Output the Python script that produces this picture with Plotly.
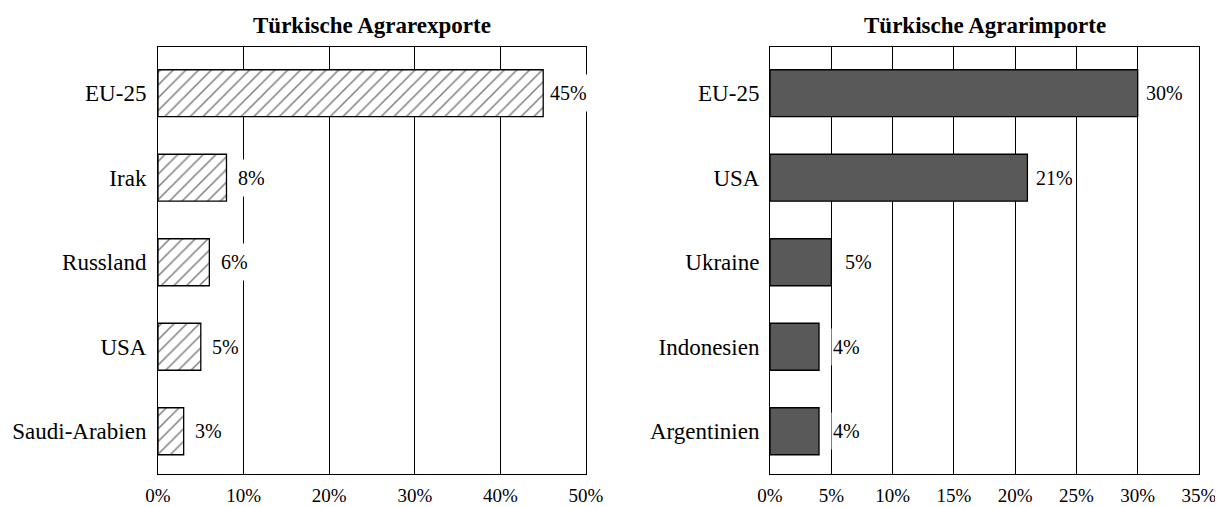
import plotly.graph_objects as go

exp_countries = ["EU-25", "Irak", "Russland", "USA", "Saudi-Arabien"]
exp_values = [45, 8, 6, 5, 3]
imp_countries = ["EU-25", "USA", "Ukraine", "Indonesien", "Argentinien"]
imp_values = [30, 21, 5, 4, 4]
exp_ticks = [0, 10, 20, 30, 40, 50]
imp_ticks = [0, 5, 10, 15, 20, 25, 30, 35]
title_exp = "Türkische Agrarexporte"
title_imp = "Türkische Agrarimporte"

FONT = "Liberation Serif"
OFF = 8  # default page body margin
W, H = 1223 - OFF, 507 - OFF

def px(x):
    return (x - OFF) / W

def py(y):
    return 1 - (y - OFF) / H

fig = go.Figure()
fig.add_trace(go.Bar(
    x=exp_values, y=exp_countries, orientation="h", xaxis="x", yaxis="y",
    marker=dict(color="white", line=dict(color="black", width=1.3),
                pattern=dict(shape="/", fgcolor="black", bgcolor="white", size=9, solidity=0.17)),
    hoverinfo="skip", showlegend=False))
fig.add_trace(go.Bar(
    x=imp_values, y=imp_countries, orientation="h", xaxis="x2", yaxis="y2",
    marker=dict(color="#595959", line=dict(color="black", width=1.3)),
    hoverinfo="skip", showlegend=False))

ydom = [py(473.5), py(47)]
yrange = [4.5, -0.547]
common = dict(showline=True, linecolor="black", linewidth=1, mirror=True, ticks="",
              zeroline=False, fixedrange=True, automargin=False)
xfont = dict(family=FONT, size=19, color="black")
yfont = dict(family=FONT, size=23, color="black")
fig.update_layout(
    width=W, height=H, margin=dict(l=0, r=0, t=0, b=0),
    paper_bgcolor="white", plot_bgcolor="white",
    bargap=0.444,
    xaxis=dict(domain=[px(158), px(586)], range=[0, 50], tickvals=exp_ticks,
               ticktext=[f"{v}%" for v in exp_ticks], showgrid=True, gridcolor="black",
               gridwidth=1, ticklabelstandoff=5, tickfont=xfont, anchor="y", **common),
    yaxis=dict(domain=ydom, range=yrange, showgrid=False, anchor="x",
               ticklabelstandoff=6, tickfont=yfont, **common),
    xaxis2=dict(domain=[px(770), px(1199)], range=[0, 35], tickvals=imp_ticks,
                ticktext=[f"{v}%" for v in imp_ticks], showgrid=True, gridcolor="black",
                gridwidth=1, ticklabelstandoff=5, tickfont=xfont, anchor="y2", **common),
    yaxis2=dict(domain=ydom, range=yrange, showgrid=False, anchor="x2",
                ticklabelstandoff=5, tickfont=yfont, **common),
)

lab_font = dict(family=FONT, size=20, color="black")
for c, v in zip(exp_countries, exp_values):
    fig.add_annotation(x=v, y=c, xref="x", yref="y", text=f"{v}%", showarrow=False,
                       xanchor="center", xshift=25, height=34, bgcolor="white",
                       font=lab_font)
for c, v in zip(imp_countries, imp_values):
    fig.add_annotation(x=v, y=c, xref="x2", yref="y2", text=f"{v}%", showarrow=False,
                       xanchor="center", xshift=27, height=34, bgcolor="white",
                       font=lab_font)

tfont = dict(family=FONT, size=23, color="black")
fig.add_annotation(x=(px(158) + px(586)) / 2, y=py(25), xref="paper", yref="paper",
                   text=f"<b>{title_exp}</b>", showarrow=False, xanchor="center", yanchor="middle",
                   font=tfont)
fig.add_annotation(x=(px(770) + px(1199)) / 2, y=py(25), xref="paper", yref="paper",
                   text=f"<b>{title_imp}</b>", showarrow=False, xanchor="center", yanchor="middle",
                   font=tfont)

fig.write_html("out.html")
